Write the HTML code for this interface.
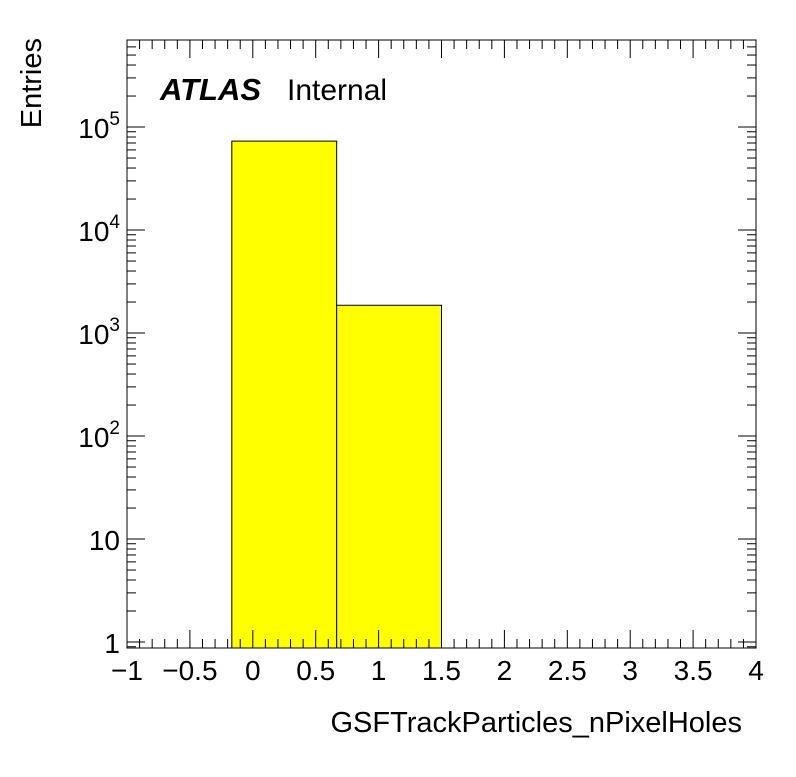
<!DOCTYPE html>
<html><head><meta charset="utf-8"><style>
body{margin:0;background:#fff}
svg{font-family:"Liberation Sans",sans-serif}
</style></head><body>
<svg id="chart" width="796" height="772" xmlns="http://www.w3.org/2000/svg">
<g id="marks"></g>
<g id="axes"></g>
<rect x="127" y="40" width="629" height="608" fill="none" stroke="#000" stroke-width="1"/>
<text x="160" y="100" font-size="31" font-weight="bold" font-style="italic">ATLAS</text>
<text x="287" y="100" font-size="30">Internal</text>
<text x="742" y="732" font-size="29" text-anchor="end">GSFTrackParticles_nPixelHoles</text>
<text transform="translate(41,38) rotate(-90)" font-size="29" text-anchor="end">Entries</text>
</svg>
<script>
const binEdges=[-0.1667,0.6667,1.5];
const binValues=[73000,1860];
const xTickLabels=["\u22121","\u22120.5","0","0.5","1","1.5","2","2.5","3","3.5","4"];
const xTickValues=[-1,-0.5,0,0.5,1,1.5,2,2.5,3,3.5,4];
const yTickValues=[1,10,100,1000,10000,100000];
const yTickLabels=["1","10","10^2","10^3","10^4","10^5"];
const L=127,R=756,T=40,B=648,xmin=-1,xmax=4;
const ylo=-0.058,yhi=5.845;
const NS="http://www.w3.org/2000/svg";
const X=v=>L+(v-xmin)/(xmax-xmin)*(R-L);
const Y=v=>B-(Math.log10(v)-ylo)/(yhi-ylo)*(B-T);
function mk(t,a,p){const e=document.createElementNS(NS,t);for(const k in a)e.setAttribute(k,a[k]);p.appendChild(e);return e;}
const marks=document.getElementById('marks'),axes=document.getElementById('axes');
binValues.forEach((v,i)=>{
 const r=mk('rect',{x:X(binEdges[i]),y:Y(v),width:X(binEdges[i+1])-X(binEdges[i]),height:B-Y(v),fill:'#ffff00',stroke:'#000','stroke-width':1},marks);
 
 
});
for(let k=0;k<=50;k++){const v=xmin+k*0.1;const x=X(v);const len=(k%5==0)?18:9;
 mk('line',{x1:x,x2:x,y1:B,y2:B-len,stroke:'#000'},axes);
 mk('line',{x1:x,x2:x,y1:T,y2:T+len,stroke:'#000'},axes);}
xTickValues.forEach((v,i)=>{const t=mk('text',{x:X(v),y:B+32,'font-size':28,'text-anchor':'middle'},axes);t.textContent=xTickLabels[i];
 
 });
for(let d=-1;d<=5;d++){for(let m=1;m<=9;m++){const v=m*Math.pow(10,d);const y=Y(v);if(y<T||y>B)continue;const len=(m==1)?18:9;
 mk('line',{x1:L,x2:L+len,y1:y,y2:y,stroke:'#000'},axes);
 mk('line',{x1:R,x2:R-len,y1:y,y2:y,stroke:'#000'},axes);}}
yTickValues.forEach((v,i)=>{const t=mk('text',{x:120,y:Y(v)+11,'font-size':28,'text-anchor':'end'},axes);
 const lab=yTickLabels[i];
 if(lab.includes('^')){const [b,e]=lab.split('^');t.textContent=b;const s=mk('tspan',{dy:-13,'font-size':19},t);s.textContent=e;}
 else t.textContent=lab;
 
 });
</script>
</body></html>
